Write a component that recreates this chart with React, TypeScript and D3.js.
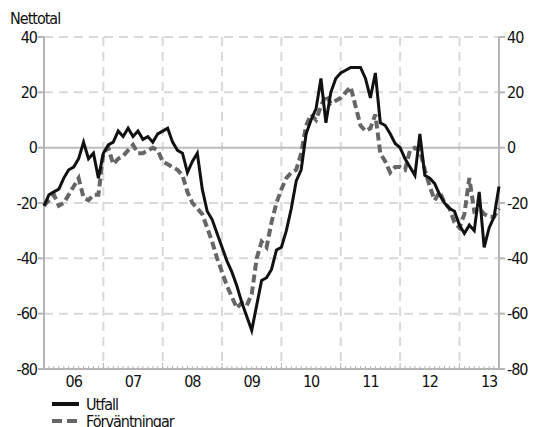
import { useEffect, useRef } from "react"
import * as d3 from "d3"

// Monthly, Jan 2006 .. Sep 2013
const utfall = [
  -21, -17, -16, -15, -11, -8, -7, -4, 2, -4, -2, -11,
  -2, 1, 2, 6, 4, 7, 4, 6, 3, 4, 2, 5,
  6, 7, 2, -1, -2, -9, -5, -2, -15, -23, -26, -31,
  -36, -41, -45, -50, -56, -61, -66, -57, -48, -47, -44, -37,
  -36, -30, -22, -12, -8, 5, 10, 14, 25, 9, 20, 25,
  27, 28, 29, 29, 29, 25, 18, 27, 9, 8, 5, 1.5,
  0, -4, -7, -10, 5, -10, -11, -13, -17, -20, -22, -23,
  -28, -31, -28, -30, -16, -36, -29, -25, -14,
]

const forvantningar = [
  -21, -19, -17, -21, -20, -17, -14, -11, -18, -19, -17, -17,
  -2, 0, -6, -4, -3, -1, 1, -2, -2, -1, 0, -1,
  -5, -6, -7, -8, -10, -16, -20, -22, -24, -29, -34, -40,
  -45, -50, -54, -58, -56, -57, -53, -40, -34, -36, -27, -20,
  -15, -11, -9, -8, -2, 8, 12, 10, 15, 19, 16, 17,
  18, 20, 22, 15, 8, 6, 7, 12, -2, -5, -9, -7,
  -7, -8, -1, 0, -1, -8, -14, -19, -16, -20, -22, -27,
  -29, -24, -11, -23, -22, -24, -25, -25, -22,
]

const yearLabels = ["06", "07", "08", "09", "10", "11", "12", "13"]
const yTicks = [-80, -60, -40, -20, 0, 20, 40]

const FONT = "'DejaVu Sans Condensed', 'DejaVu Sans', sans-serif"

export default function App() {
  const svgRef = useRef<SVGSVGElement>(null)

  useEffect(() => {
    if (!svgRef.current) return
    const svg = d3.select(svgRef.current)
    svg.selectAll("*").remove()

    const left = 44
    const right = 499
    const top = 37
    const bottom = 369

    const x = d3.scaleLinear().domain([0, 92]).range([left, right])
    const y = d3.scaleLinear().domain([-80, 40]).range([bottom, top])

    // grid
    const grid = svg.append("g")
    grid
      .selectAll("line.h")
      .data(yTicks.filter((t) => t !== 0 && t !== -80))
      .enter()
      .append("line")
      .attr("x1", left)
      .attr("x2", right)
      .attr("y1", (d) => y(d))
      .attr("y2", (d) => y(d))
      .attr("stroke", "#d9d9d9")
      .attr("stroke-width", 2)
      .attr("stroke-dasharray", "9,6")

    grid
      .selectAll("line.v")
      .data(d3.range(12, 92, 12))
      .enter()
      .append("line")
      .attr("x1", (d) => x(d))
      .attr("x2", (d) => x(d))
      .attr("y1", top)
      .attr("y2", bottom)
      .attr("stroke", "#d9d9d9")
      .attr("stroke-width", 2)
      .attr("stroke-dasharray", "9,6")

    // zero line
    svg
      .append("line")
      .attr("x1", left)
      .attr("x2", right)
      .attr("y1", y(0))
      .attr("y2", y(0))
      .attr("stroke", "#bdbdbd")
      .attr("stroke-width", 2)

    // axes
    const axisColor = "#b5b5b5"
    svg
      .append("line")
      .attr("x1", left)
      .attr("x2", left)
      .attr("y1", top)
      .attr("y2", bottom)
      .attr("stroke", axisColor)
      .attr("stroke-width", 2)
    svg
      .append("line")
      .attr("x1", right)
      .attr("x2", right)
      .attr("y1", top)
      .attr("y2", bottom)
      .attr("stroke", axisColor)
      .attr("stroke-width", 2)
    svg
      .append("line")
      .attr("x1", left)
      .attr("x2", right)
      .attr("y1", bottom)
      .attr("y2", bottom)
      .attr("stroke", axisColor)
      .attr("stroke-width", 2)

    // monthly minor ticks
    svg
      .selectAll("line.mt")
      .data(d3.range(0, 93))
      .enter()
      .append("line")
      .attr("x1", (d) => x(d))
      .attr("x2", (d) => x(d))
      .attr("y1", bottom)
      .attr("y2", (d) => (d % 12 === 0 ? bottom - 6 : bottom - 3))
      .attr("stroke", axisColor)
      .attr("stroke-width", 1)

    // y ticks + labels both sides
    yTicks.forEach((t) => {
      svg
        .append("line")
        .attr("x1", left - 6)
        .attr("x2", left)
        .attr("y1", y(t))
        .attr("y2", y(t))
        .attr("stroke", axisColor)
        .attr("stroke-width", 2)
      svg
        .append("line")
        .attr("x1", right)
        .attr("x2", right + 6)
        .attr("y1", y(t))
        .attr("y2", y(t))
        .attr("stroke", axisColor)
        .attr("stroke-width", 2)
      svg
        .append("text")
        .attr("x", left - 7)
        .attr("y", y(t))
        .attr("dy", "0.36em")
        .attr("text-anchor", "end")
        .text(String(t))
      svg
        .append("text")
        .attr("x", right + 8)
        .attr("y", y(t))
        .attr("dy", "0.36em")
        .attr("text-anchor", "start")
        .text(String(t))
    })

    // year labels
    svg
      .selectAll("text.yr")
      .data(yearLabels)
      .enter()
      .append("text")
      .attr("x", (_, i) => x(6 + i * 12))
      .attr("y", 387)
      .attr("text-anchor", "middle")
      .text((d) => d)

    svg.append("text").attr("x", 10).attr("y", 24).text("Nettotal")

    const line = d3
      .line<number>()
      .x((_, i) => x(i))
      .y((d) => y(d))

    svg
      .append("path")
      .datum(forvantningar)
      .attr("fill", "none")
      .attr("stroke", "#666666")
      .attr("stroke-width", 4)
      .attr("stroke-dasharray", "8,4")
      .attr("d", line)

    svg
      .append("path")
      .datum(utfall)
      .attr("fill", "none")
      .attr("stroke", "#111111")
      .attr("stroke-width", 3)
      .attr("stroke-linejoin", "miter")
      .attr("d", line)

    // legend
    svg
      .append("line")
      .attr("x1", 52)
      .attr("x2", 79)
      .attr("y1", 404)
      .attr("y2", 404)
      .attr("stroke", "#111111")
      .attr("stroke-width", 4)
    svg.append("text").attr("x", 86).attr("y", 410).text("Utfall")
    svg
      .append("line")
      .attr("x1", 52)
      .attr("x2", 79)
      .attr("y1", 421)
      .attr("y2", 421)
      .attr("stroke", "#666666")
      .attr("stroke-width", 4)
      .attr("stroke-dasharray", "10,5")
    svg.append("text").attr("x", 86).attr("y", 427).text("Förväntningar")

    svg
      .selectAll("text")
      .attr("font-family", FONT)
      .attr("font-size", 16)
      .attr("letter-spacing", -1)
      .attr("fill", "#111")
  }, [])

  return (
    <svg
      ref={svgRef}
      width={537}
      height={427}
      style={{ position: "absolute", left: 0, top: 0, background: "#fff" }}
    />
  )
}
